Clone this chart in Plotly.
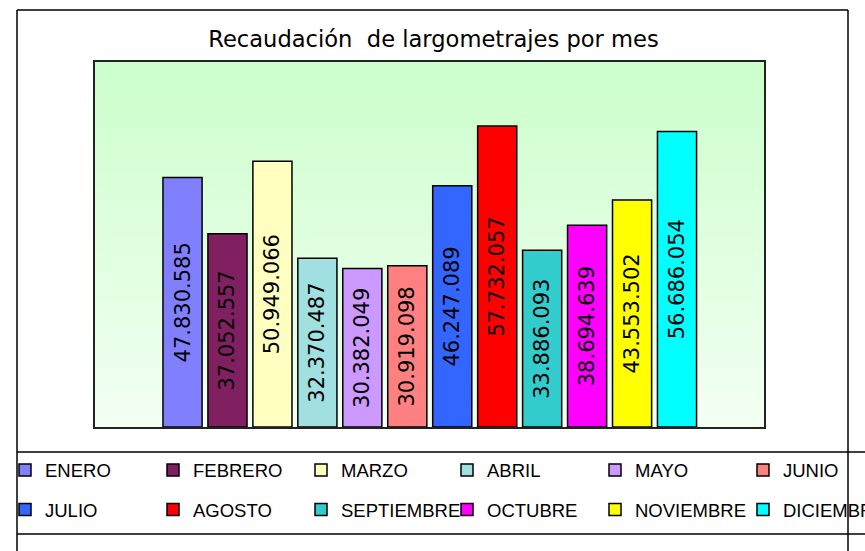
import plotly.graph_objects as go

# ---- data ----
meses = ["ENERO", "FEBRERO", "MARZO", "ABRIL", "MAYO", "JUNIO",
         "JULIO", "AGOSTO", "SEPTIEMBRE", "OCTUBRE", "NOVIEMBRE", "DICIEMBRE"]
recaudacion = [47830585, 37052557, 50949066, 32370487, 30382049, 30919098,
               46247089, 57732057, 33886093, 38694639, 43553502, 56686054]
colores = ["#8080FF", "#802060", "#FFFFC0", "#A0E0E0", "#CC99FF", "#FF8080",
           "#3366FF", "#FF0000", "#33CCCC", "#FF00FF", "#FFFF00", "#00FFFF"]
titulo = "Recaudación  de largometrajes por mes"

W, H = 865, 551
L, R, T, B = 95, 764, 62, 427   # plot area in pixels
pw, ph = R - L, B - T

def px2x(px):
    return (px - L) / pw

def px2y(py):
    return (B - py) / ph

fig = go.Figure()

# legend layout: 6 columns x 2 rows (pixel positions)
col_marker_px = [26, 174, 322, 468, 616, 764]
row_center_px = [470.5, 510]

layout_legends = {}
for i, (m, v, c) in enumerate(zip(meses, recaudacion, colores)):
    lname = "legend" if i == 0 else f"legend{i + 1}"
    fig.add_trace(go.Bar(
        x=[i], y=[v], name=m, width=0.87,
        marker=dict(color=c, line=dict(color="black", width=1.5)),
        texttemplate="%{y:,.0f}", textposition="inside", textangle=-90,
        insidetextanchor="middle",
        textfont=dict(family="DejaVu Sans", size=21, color="black"),
        legend=lname, hoverinfo="name+y",
    ))
    col, row = i % 6, i // 6
    layout_legends[lname] = dict(
        x=px2x(col_marker_px[col] - 21), xanchor="left",
        y=px2y(row_center_px[row]), yanchor="middle",
        bgcolor="rgba(0,0,0,0)", borderwidth=0,
        font=dict(family="Liberation Sans, Arial", size=18.5, color="black"),
    )

# gradient background of the plot area
shapes = []
n = 73
top_c = (204, 255, 204)
bot_c = (243, 255, 243)
for k in range(n):
    f = k / (n - 1)
    col = tuple(round(top_c[j] + (bot_c[j] - top_c[j]) * f) for j in range(3))
    shapes.append(dict(type="rect", xref="paper", yref="paper",
                       x0=0, x1=1, y1=1 - k / n, y0=1 - (k + 1) / n,
                       fillcolor="rgb(%d,%d,%d)" % col, line=dict(width=0),
                       layer="below"))

# outer frame lines
def hline(py, x0, x1):
    return dict(type="line", xref="paper", yref="paper",
                x0=px2x(x0), x1=px2x(x1), y0=px2y(py), y1=px2y(py),
                line=dict(color="black", width=1.5))

def vline(px, y0, y1):
    return dict(type="line", xref="paper", yref="paper",
                x0=px2x(px), x1=px2x(px), y0=px2y(y0), y1=px2y(y1),
                line=dict(color="black", width=1.5))

shapes += [
    hline(10, 17, 848),
    vline(17, 10, 560),
    vline(848, 10, 560),
    hline(452, 17, 875),
    hline(534, 17, 875),
]

fig.update_layout(
    width=W, height=H,
    margin=dict(l=L, r=W - R, t=T, b=H - B, autoexpand=False),
    paper_bgcolor="white", plot_bgcolor="white",
    separators=",.",
    barmode="overlay",
    title=dict(text=titulo, x=433.5 / W, xanchor="center",
               y=1 - 39 / H, yanchor="middle", xref="container", yref="container",
               font=dict(family="DejaVu Sans", size=22.6, color="black")),
    xaxis=dict(range=[-1.947, 12.935], showticklabels=False, ticks="",
               showgrid=False, zeroline=False, showline=True, mirror=True,
               linecolor="#222", linewidth=2, fixedrange=True),
    yaxis=dict(range=[0, 70000000], showticklabels=False, ticks="",
               showgrid=False, zeroline=False, showline=True, mirror=True,
               linecolor="#222", linewidth=2, fixedrange=True),
    shapes=shapes,
    showlegend=True,
    **layout_legends,
)

fig.write_html(
    "out.html",
    config={"displayModeBar": False},
    post_script="document.body.style.margin='0';document.body.style.overflow='hidden';",
)
